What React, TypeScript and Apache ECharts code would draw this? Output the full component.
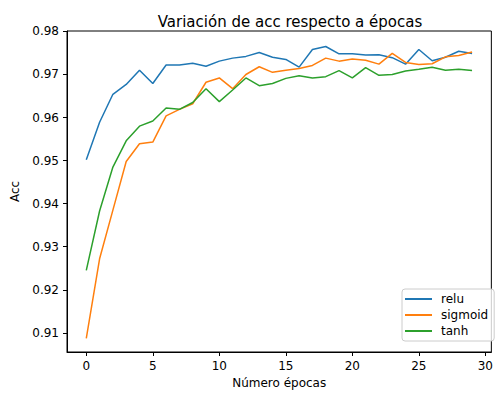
import React, { useEffect, useRef } from "react";
import * as echarts from "echarts";

const epochs = Array.from({ length: 30 }, (_, i) => i);
const relu = [0.9502, 0.9589, 0.9654, 0.9677, 0.9710, 0.9679, 0.9722, 0.9722, 0.9726, 0.9719, 0.9731, 0.9738, 0.9742, 0.9751, 0.9740, 0.9735, 0.9717, 0.9758, 0.9765, 0.9748, 0.9748, 0.9745, 0.9746, 0.9739, 0.9724, 0.9758, 0.9732, 0.9740, 0.9754, 0.9749];
const sigmoid = [0.9087, 0.9272, 0.9385, 0.9498, 0.9539, 0.9543, 0.9604, 0.9619, 0.9632, 0.9682, 0.9692, 0.9667, 0.9700, 0.9718, 0.9705, 0.9710, 0.9714, 0.9721, 0.9738, 0.9731, 0.9736, 0.9733, 0.9724, 0.9749, 0.9728, 0.9723, 0.9725, 0.9741, 0.9744, 0.9752];
const tanh = [0.9245, 0.9383, 0.9485, 0.9546, 0.9580, 0.9592, 0.9622, 0.9619, 0.9635, 0.9667, 0.9637, 0.9664, 0.9692, 0.9674, 0.9679, 0.9691, 0.9697, 0.9692, 0.9695, 0.9709, 0.9692, 0.9716, 0.9698, 0.9700, 0.9708, 0.9712, 0.9717, 0.9710, 0.9712, 0.9709];
const xTicks = [0, 5, 10, 15, 20, 25, 30];
const yTicks = [0.91, 0.92, 0.93, 0.94, 0.95, 0.96, 0.97, 0.98];
const seriesNames = ["relu", "sigmoid", "tanh"];
const colors = ["#1f77b4", "#ff7f0e", "#2ca02c"];

const FONT = "DejaVu Sans";

export default function App() {
  const ref = useRef<HTMLDivElement>(null);
  useEffect(() => {
    document.body.style.margin = "0";
    const chart = echarts.init(ref.current!, null, { renderer: "svg" });
    const data = [relu, sigmoid, tanh];
    chart.setOption({
      animation: false,
      textStyle: { fontFamily: FONT },
      title: {
        text: "Variación de acc respecto a épocas",
        left: 285,
        textAlign: "center",
        top: 9,
        textStyle: { fontFamily: FONT, fontSize: 15, fontWeight: "normal", color: "#000" },
      },
      grid: {
        left: 67,
        right: -1,
        top: 31,
        bottom: 40,
        show: true,
        borderColor: "#000",
        borderWidth: 1,
        backgroundColor: "transparent",
      },
      legend: {
        orient: "vertical",
        left: 402,
        top: 289,
        data: seriesNames,
        icon: "rect",
        itemWidth: 27,
        itemHeight: 2,
        itemGap: 4,
        padding: [4, 6, 4, 3],
        borderColor: "#cccccc",
        borderWidth: 1,
        borderRadius: 3,
        backgroundColor: "rgba(255,255,255,0.8)",
        textStyle: { fontFamily: FONT, fontSize: 12, color: "#000", padding: [0, 0, 0, 4] },
      },
      xAxis: {
        type: "value",
        min: -1.45,
        max: 30.45,
        name: "Número épocas",
        nameLocation: "middle",
        nameGap: 25,
        nameTextStyle: { fontFamily: FONT, fontSize: 12, color: "#000" },
        axisLine: { show: true, onZero: false, lineStyle: { color: "#000", width: 1 } },
        axisTick: { show: true, customValues: xTicks, length: 4, inside: false, lineStyle: { color: "#000" } },
        axisLabel: { customValues: xTicks, margin: 8, fontFamily: FONT, fontSize: 12, color: "#000" },
        splitLine: { show: false },
      },
      yAxis: {
        type: "value",
        min: 0.90555,
        max: 0.9801,
        name: "Acc",
        nameLocation: "middle",
        nameGap: 37,
        nameTextStyle: { fontFamily: FONT, fontSize: 12, color: "#000" },
        axisLine: { show: true, onZero: false, lineStyle: { color: "#000", width: 1 } },
        axisTick: { show: true, customValues: yTicks, length: 4, inside: false, lineStyle: { color: "#000" } },
        axisLabel: {
          customValues: yTicks,
          margin: 8,
          fontFamily: FONT,
          fontSize: 12,
          color: "#000",
          formatter: (v: number) => v.toFixed(2),
        },
        splitLine: { show: false },
      },
      series: seriesNames.map((name, i) => ({
        name,
        type: "line",
        data: epochs.map((e, j) => [e, data[i][j]]),
        symbol: "none",
        lineStyle: { color: colors[i], width: 1.5 },
        itemStyle: { color: colors[i] },
      })),
    });
    return () => chart.dispose();
  }, []);
  return <div ref={ref} style={{ width: 496, height: 394 }} />;
}
